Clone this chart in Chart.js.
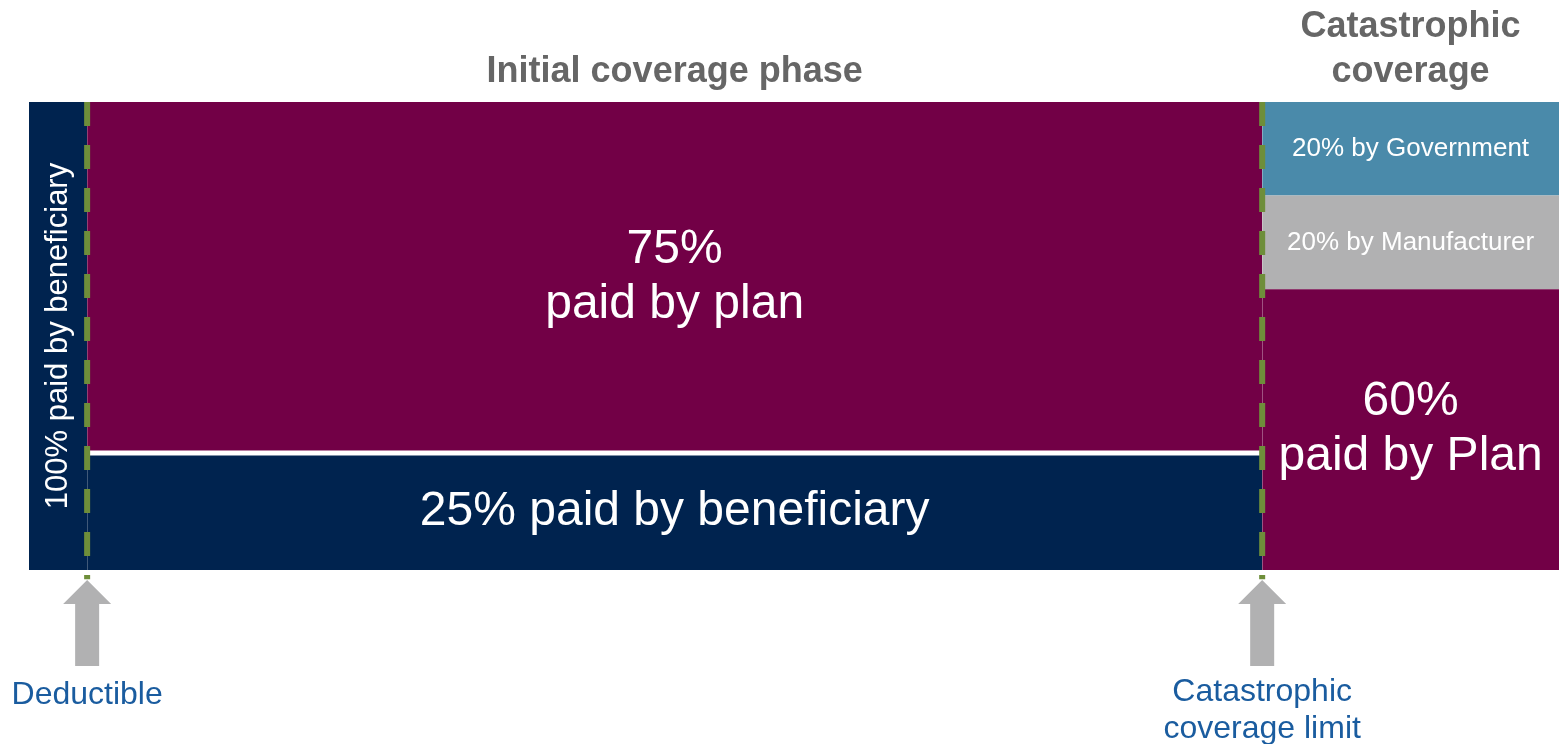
<!DOCTYPE html>
<html>
<head>
<meta charset="utf-8">
<title>Part D coverage phases</title>
<script src="https://cdn.jsdelivr.net/npm/chart.js@4"></script>
<style>
  html, body { margin: 0; padding: 0; background: #fff; }
  #wrap { width: 1559px; height: 744px; }
</style>
</head>
<body>
<div id="wrap"><canvas id="phaseChart"></canvas></div>
<script>
// spending axis, 0..100, split into the three benefit phases
const phaseEdges = [0, 3.8, 80.6, 100];
const phaseTitles = ["", "Initial coverage phase", "Catastrophic coverage"];

// share of each drug dollar, bottom band first
const deductibleShares = [100];
const deductibleLabels = ["100% paid by beneficiary"];
const initialShares = [25, 75];
const initialLabels = ["25% paid by beneficiary", "75%\npaid by plan"];
const catastrophicShares = [60, 20, 20];
const catastrophicLabels = ["60%\npaid by Plan", "20% by Manufacturer", "20% by Government"];

const markers = [
    { at: phaseEdges[1], text: "Deductible" },
    { at: phaseEdges[2], text: "Catastrophic\ncoverage limit" }
];

const NAVY = "#00234f";
const PLUM = "#720046";
const GREY = "#b1b1b2";
const TEAL = "#4a8aaa";
const GREEN = "#6e8e3a";

const font = "'Liberation Sans', Arial, sans-serif";

function band(x0, x1, y0, y1, color) {
    return {
        data: [{ x: x0, y: y1 }, { x: x1, y: y1 }],
        showLine: true,
        fill: { value: y0 },
        backgroundColor: color,
        borderColor: color,
        borderWidth: 0,
        pointRadius: 0,
        order: 5
    };
}

function stackBands(x0, x1, shares, colors) {
    let base = 0;
    return shares.map((s, i) => {
        const ds = band(x0, x1, base, base + s, colors[i]);
        base += s;
        return ds;
    });
}

const datasets = [
    ...stackBands(phaseEdges[0], phaseEdges[1], deductibleShares, [NAVY]),
    ...stackBands(phaseEdges[1], phaseEdges[2], initialShares, [NAVY, PLUM]),
    ...stackBands(phaseEdges[2], phaseEdges[3], catastrophicShares, [PLUM, GREY, TEAL]),
    {
        // white rule between beneficiary and plan shares
        data: [{ x: phaseEdges[1], y: initialShares[0] }, { x: phaseEdges[2], y: initialShares[0] }],
        showLine: true, fill: false, borderColor: "#fff", borderWidth: 5, pointRadius: 0, order: 2
    },
    ...markers.map(m => ({
        data: [{ x: m.at, y: 100 }, { x: m.at, y: -2 }],
        showLine: true, fill: false, borderColor: GREEN, borderWidth: 6,
        borderDash: [24, 19], borderCapStyle: "butt", pointRadius: 0, clip: false, order: 0
    }))
];

function bandLabels(ctx, xs, ys, x0, x1, shares, labels, sizes) {
    let base = 0;
    shares.forEach((s, i) => {
        const cx = (xs.getPixelForValue(x0) + xs.getPixelForValue(x1)) / 2;
        const cy = ys.getPixelForValue(base + s / 2);
        const lines = labels[i].split("\n");
        const lh = sizes[i] * 1.15;
        ctx.font = sizes[i] + "px " + font;
        lines.forEach((t, j) => {
            ctx.fillText(t, cx, cy + (j - (lines.length - 1) / 2) * lh);
        });
        base += s;
    });
}

const annotations = {
    id: "annotations",
    afterDraw(chart) {
        const ctx = chart.ctx;
        const xs = chart.scales.x, ys = chart.scales.y;
        const area = chart.chartArea;
        ctx.save();
        ctx.textAlign = "center";
        ctx.textBaseline = "middle";

        // phase headings above the bars
        ctx.fillStyle = "#666666";
        ctx.font = "bold 36px " + font;
        phaseTitles.forEach((title, i) => {
            if (!title) return;
            const cx = (xs.getPixelForValue(phaseEdges[i]) + xs.getPixelForValue(phaseEdges[i + 1])) / 2;
            const words = i === 2 ? ["Catastrophic", "coverage"] : [title];
            words.forEach((w, j) => {
                ctx.fillText(w, cx, area.top - 30 - (words.length - 1 - j) * 45);
            });
        });

        // text inside the bands
        ctx.fillStyle = "#ffffff";
        bandLabels(ctx, xs, ys, phaseEdges[1], phaseEdges[2], initialShares, initialLabels, [48, 48]);
        bandLabels(ctx, xs, ys, phaseEdges[2], phaseEdges[3], catastrophicShares, catastrophicLabels, [48, 26, 26]);

        // deductible text runs up the narrow band
        const dx = (xs.getPixelForValue(phaseEdges[0]) + xs.getPixelForValue(phaseEdges[1])) / 2;
        ctx.save();
        ctx.translate(dx, ys.getPixelForValue(deductibleShares[0] / 2));
        ctx.rotate(-Math.PI / 2);
        ctx.font = "31px " + font;
        ctx.fillText(deductibleLabels[0], 0, 0);
        ctx.restore();

        // arrows and captions under the phase boundaries
        markers.forEach(m => {
            const x = xs.getPixelForValue(m.at);
            const tip = area.bottom + 10;
            ctx.fillStyle = GREY;
            ctx.beginPath();
            ctx.moveTo(x, tip);
            ctx.lineTo(x + 24, tip + 24);
            ctx.lineTo(x + 12, tip + 24);
            ctx.lineTo(x + 12, tip + 86);
            ctx.lineTo(x - 12, tip + 86);
            ctx.lineTo(x - 12, tip + 24);
            ctx.lineTo(x - 24, tip + 24);
            ctx.closePath();
            ctx.fill();

            ctx.fillStyle = "#1a5c9f";
            ctx.font = "32px " + font;
            const lines = m.text.split("\n");
            lines.forEach((t, j) => {
                ctx.fillText(t, x, lines.length > 1 ? 692 + j * 37 : 695);
            });
        });
        ctx.restore();
    }
};

new Chart(document.getElementById("phaseChart").getContext("2d"), {
    type: "scatter",
    data: { datasets: datasets },
    options: {
        responsive: true,
        maintainAspectRatio: false,
        animation: false,
        layout: { padding: { left: 29, right: 0, top: 102, bottom: 174 } },
        scales: {
            x: { type: "linear", min: 0, max: 100, display: false },
            y: { type: "linear", min: 0, max: 100, display: false }
        },
        plugins: {
            legend: { display: false },
            tooltip: { enabled: false }
        }
    },
    plugins: [annotations]
});
</script>
</body>
</html>
